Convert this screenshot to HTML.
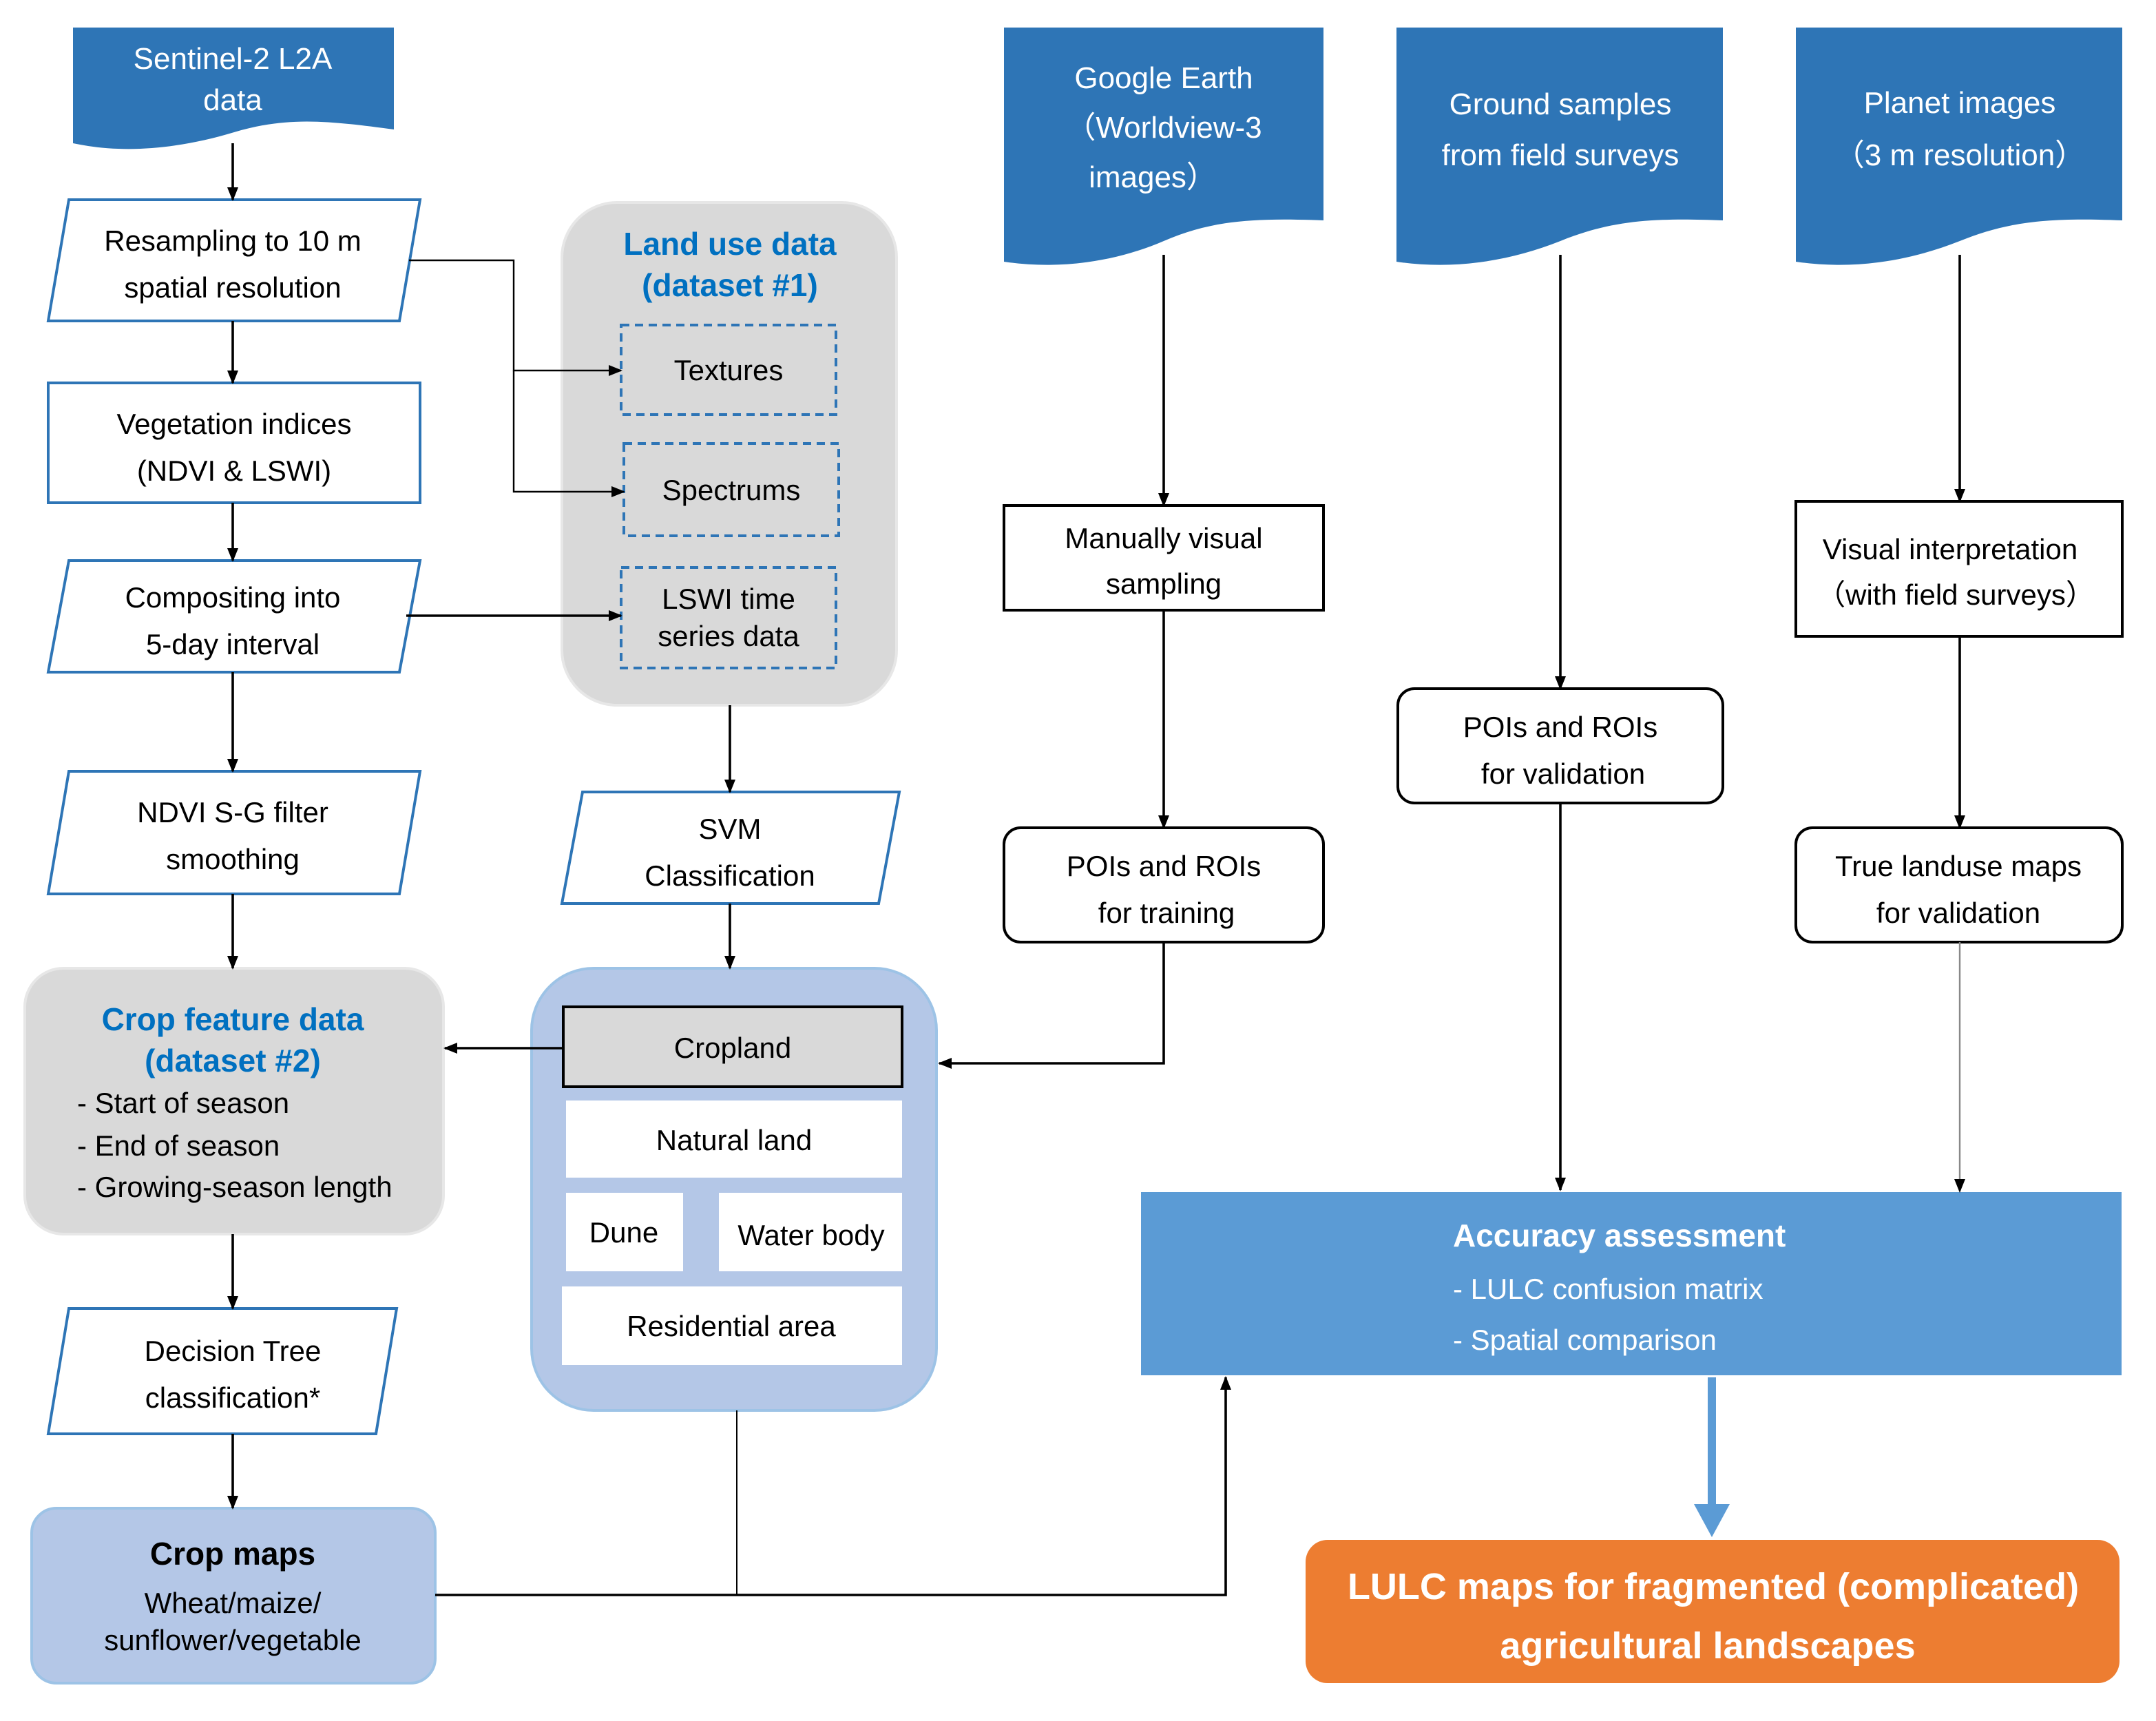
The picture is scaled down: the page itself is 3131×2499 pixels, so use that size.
<!DOCTYPE html>
<html><head><meta charset="utf-8"><style>
html,body{margin:0;padding:0;background:#fff;}
svg{display:block;}
text{font-family:"Liberation Sans",Arial,sans-serif;}
</style></head><body>
<svg width="3131" height="2499" viewBox="0 0 1565.5 1249.5" xmlns="http://www.w3.org/2000/svg">
<defs>
<marker id="a" markerWidth="10" markerHeight="10" refX="9" refY="5" orient="auto" markerUnits="userSpaceOnUse"><path d="M0,1 L10,5 L0,9 z" fill="#000"/></marker>
<marker id="g" markerWidth="10" markerHeight="10" refX="9" refY="5" orient="auto" markerUnits="userSpaceOnUse"><path d="M0,1 L10,5 L0,9 z" fill="#000"/></marker>
</defs>
<rect width="1565.5" height="1249.5" fill="#fff"/>
<g font-size="21" fill="#000">
<!-- doc shapes -->
<g fill="#2E75B6">
<path d="M53,20 H286 V94 C240,88 210,84 170,96 C130,108 90,112 53,104 Z"/>
<path d="M729,20 H961 V160 C910,158 880,160 845,175 C810,190 770,196 729,190 Z"/>
<path d="M1014,20 H1251 V160 C1200,158 1170,160 1133,175 C1095,190 1055,196 1014,190 Z"/>
<path d="M1304,20 H1541 V160 C1490,158 1460,160 1423,175 C1385,190 1345,196 1304,190 Z"/>
</g>
<g fill="#fff" text-anchor="middle" font-size="22">
<text x="169" y="50">Sentinel-2 L2A</text><text x="169" y="80">data</text>
<text x="845" y="64">Google Earth</text><text x="845" y="100">（Worldview-3</text><text x="837" y="136">images）</text>
<text x="1133" y="83">Ground samples</text><text x="1133" y="120">from field surveys</text>
<text x="1423" y="82">Planet images</text><text x="1423" y="120">（3 m resolution）</text>
</g>
<!-- left column -->
<g fill="#fff" stroke="#2E75B6" stroke-width="2">
<path d="M50,145 H305 L290,233 H35 Z"/>
<rect x="35" y="278" width="270" height="87"/>
<path d="M50,407 H305 L290,488 H35 Z"/>
<path d="M50,560 H305 L290,649 H35 Z"/>
<path d="M50,950 H288 L273,1041 H35 Z"/>
<path d="M423,575 H653 L638,656 H408 Z"/>
</g>
<g text-anchor="middle">
<text x="169" y="182">Resampling to 10 m</text><text x="169" y="216">spatial resolution</text>
<text x="170" y="315">Vegetation indices</text><text x="170" y="349">(NDVI &amp; LSWI)</text>
<text x="169" y="441">Compositing into</text><text x="169" y="475">5-day interval</text>
<text x="169" y="597">NDVI S-G filter</text><text x="169" y="631">smoothing</text>
<text x="169" y="988">Decision Tree</text><text x="169" y="1022">classification*</text>
<text x="530" y="609">SVM</text><text x="530" y="643">Classification</text>
</g>
<rect x="18" y="703" width="304" height="193" rx="28" fill="#d9d9d9" stroke="#e7e7e7" stroke-width="2"/>
<text x="169" y="748" text-anchor="middle" fill="#0070C0" font-weight="bold" font-size="23">Crop feature data</text>
<text x="169" y="778" text-anchor="middle" fill="#0070C0" font-weight="bold" font-size="23">(dataset #2)</text>
<text x="56" y="808">- Start of season</text>
<text x="56" y="839">- End of season</text>
<text x="56" y="869">- Growing-season length</text>
<rect x="23" y="1095" width="293" height="127" rx="18" fill="#b4c7e7" stroke="#9dc3e6" stroke-width="2"/>
<text x="169" y="1136" text-anchor="middle" font-weight="bold" font-size="23">Crop maps</text>
<text x="169" y="1171" text-anchor="middle">Wheat/maize/</text>
<text x="169" y="1198" text-anchor="middle">sunflower/vegetable</text>
<!-- land use -->
<rect x="408" y="147" width="243" height="365" rx="40" fill="#d9d9d9" stroke="#e7e7e7" stroke-width="2"/>
<text x="530" y="185" text-anchor="middle" fill="#0070C0" font-weight="bold" font-size="23">Land use data</text>
<text x="530" y="215" text-anchor="middle" fill="#0070C0" font-weight="bold" font-size="23">(dataset #1)</text>
<g fill="none" stroke="#2E75B6" stroke-width="2" stroke-dasharray="6,4">
<rect x="451" y="236" width="156" height="65"/>
<rect x="453" y="322" width="156" height="67"/>
<rect x="451" y="412" width="156" height="73"/>
</g>
<text x="529" y="276" text-anchor="middle">Textures</text>
<text x="531" y="363" text-anchor="middle">Spectrums</text>
<text x="529" y="442" text-anchor="middle">LSWI time</text>
<text x="529" y="469" text-anchor="middle">series data</text>
<rect x="386" y="703" width="294" height="321" rx="45" fill="#b4c7e7" stroke="#9dc3e6" stroke-width="2"/>
<rect x="409" y="731" width="246" height="58" fill="#d9d9d9" stroke="#000" stroke-width="2"/>
<g fill="#fff">
<rect x="411" y="799" width="244" height="56"/>
<rect x="411" y="866" width="85" height="57"/>
<rect x="522" y="866" width="133" height="57"/>
<rect x="408" y="934" width="247" height="57"/>
</g>
<g text-anchor="middle">
<text x="532" y="768">Cropland</text>
<text x="533" y="835">Natural land</text>
<text x="453" y="902">Dune</text>
<text x="589" y="904">Water body</text>
<text x="531" y="970">Residential area</text>
</g>
<!-- right columns -->
<g fill="#fff" stroke="#000" stroke-width="2">
<rect x="729" y="367" width="232" height="76"/>
<rect x="729" y="601" width="232" height="83" rx="12"/>
<rect x="1015" y="500" width="236" height="83" rx="12"/>
<rect x="1304" y="364" width="237" height="98"/>
<rect x="1304" y="601" width="237" height="83" rx="12"/>
</g>
<g text-anchor="middle">
<text x="845" y="398">Manually visual</text><text x="845" y="431">sampling</text>
<text x="845" y="636">POIs and ROIs</text><text x="847" y="670">for training</text>
<text x="1133" y="535">POIs and ROIs</text><text x="1135" y="569">for validation</text>
<text x="1416" y="406">Visual interpretation</text><text x="1420" y="439">（with field surveys）</text>
<text x="1422" y="636">True landuse maps</text><text x="1422" y="670">for validation</text>
</g>
<rect x="829" y="866" width="711" height="132" fill="#5b9bd5" stroke="#5b9bd5"/>
<text x="1055" y="905" fill="#fff" font-weight="bold" font-size="23">Accuracy assessment</text>
<text x="1055" y="943" fill="#fff">- LULC confusion matrix</text>
<text x="1055" y="980" fill="#fff">- Spatial comparison</text>
<rect x="948" y="1118" width="591" height="104" rx="16" fill="#ed7d31"/>
<text x="1244" y="1161" text-anchor="middle" fill="#fff" font-weight="bold" font-size="27">LULC maps for fragmented (complicated)</text>
<text x="1240" y="1204" text-anchor="middle" fill="#fff" font-weight="bold" font-size="27">agricultural landscapes</text>
<!-- connectors -->
<g stroke="#000" stroke-width="1.8" fill="none">
<line x1="169" y1="104" x2="169" y2="145" marker-end="url(#a)"/>
<line x1="169" y1="233" x2="169" y2="278" marker-end="url(#a)"/>
<line x1="169" y1="365" x2="169" y2="407" marker-end="url(#a)"/>
<line x1="169" y1="488" x2="169" y2="560" marker-end="url(#a)"/>
<line x1="169" y1="649" x2="169" y2="703" marker-end="url(#a)"/>
<line x1="169" y1="896" x2="169" y2="950" marker-end="url(#a)"/>
<line x1="169" y1="1041" x2="169" y2="1095" marker-end="url(#a)"/>
<path d="M297,189 H373 V269 H451" marker-end="url(#a)" stroke-width="1.2"/>
<path d="M373,269 V357 H453" marker-end="url(#a)" stroke-width="1.2"/>
<line x1="295" y1="447" x2="451" y2="447" marker-end="url(#a)"/>
<line x1="530" y1="512" x2="530" y2="575" marker-end="url(#a)"/>
<line x1="530" y1="656" x2="530" y2="703" marker-end="url(#a)"/>
<line x1="409" y1="761" x2="323" y2="761" marker-end="url(#a)"/>
<path d="M535,1024 V1158" stroke-width="1"/>
<path d="M316,1158 H890 V1000" marker-end="url(#a)"/>
<line x1="845" y1="185" x2="845" y2="367" marker-end="url(#a)"/>
<line x1="845" y1="443" x2="845" y2="601" marker-end="url(#a)"/>
<path d="M845,684 V772 H682" marker-end="url(#a)"/>
<line x1="1133" y1="185" x2="1133" y2="500" marker-end="url(#a)"/>
<line x1="1133" y1="583" x2="1133" y2="864" marker-end="url(#a)"/>
<line x1="1423" y1="185" x2="1423" y2="364" marker-end="url(#a)"/>
<line x1="1423" y1="462" x2="1423" y2="601" marker-end="url(#a)"/>
<line x1="1423" y1="684" x2="1423" y2="865" stroke="#888" stroke-width="1.2" marker-end="url(#g)"/>
</g>
<line x1="1243" y1="1000" x2="1243" y2="1095" stroke="#5b9bd5" stroke-width="6"/>
<path d="M1230,1092 H1256 L1243,1116 Z" fill="#5b9bd5"/>
</g>
</svg>
</body></html>
